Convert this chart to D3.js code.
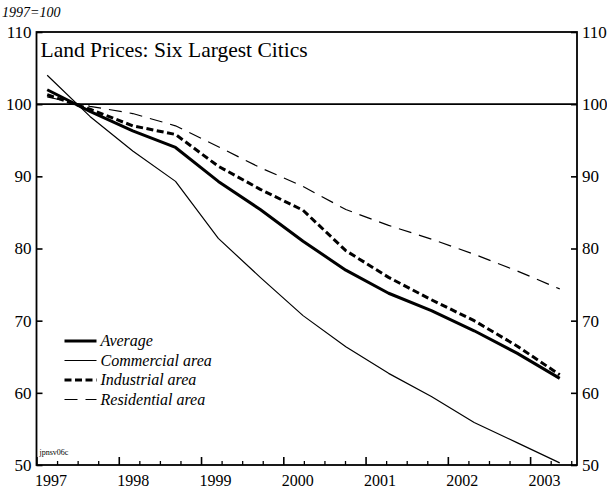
<!DOCTYPE html>
<html>
<head>
<meta charset="utf-8">
<script src="https://cdn.jsdelivr.net/npm/d3@7"></script>
<style>
body { margin: 0; background: #fff; }
text { font-family: "Liberation Serif", "Times New Roman", serif; fill: #000; }
</style>
</head>
<body>
<div id="chart"></div>
<script>
// semiannual observations (fractional year positions)
var dates = [1997.13, 1997.65, 1998.17, 1998.69, 1999.21, 1999.72, 2000.24,
             2000.76, 2001.28, 2001.80, 2002.32, 2002.84, 2003.36];
var average     = [102.0, 99.0, 96.3, 94.0, 89.3, 85.4, 81.0, 77.0, 73.8, 71.4, 68.6, 65.5, 62.0];
var commercial  = [104.0, 98.3, 93.5, 89.3, 81.4, 76.0, 70.7, 66.4, 62.7, 59.5, 55.9, 53.1, 50.3];
var industrial  = [101.3, 99.3, 97.0, 95.8, 91.4, 88.2, 85.3, 79.7, 76.0, 72.9, 70.0, 66.5, 62.5];
var residential = [101.0, 99.7, 98.7, 97.0, 94.1, 91.2, 88.6, 85.4, 83.2, 81.3, 79.2, 76.9, 74.4];

var yearTicks = [1997, 1998, 1999, 2000, 2001, 2002, 2003];
var yTicks = [50, 60, 70, 80, 90, 100, 110];

var series = [
  {name: "Average", values: average, width: 3, dash: null},
  {name: "Commercial area", values: commercial, width: 1.2, dash: null},
  {name: "Industrial area", values: industrial, width: 3, dash: "7,3.5"},
  {name: "Residential area", values: residential, width: 1.2, dash: "13,8"}
];

var margin = {top: 32, right: 30, bottom: 26, left: 36.5},
    width = 577 - margin.left,
    height = 465 - margin.top;

var x = d3.scaleLinear().domain([1997, 2003.57]).range([0, width]);
var y = d3.scaleLinear().domain([50, 110]).range([height, 0]);

var svg = d3.select("#chart").append("svg")
  .attr("width", 607)
  .attr("height", 491);

svg.append("text")
  .attr("x", 2).attr("y", 17)
  .style("font-size", "14px").style("font-style", "italic")
  .text("1997=100");

var g = svg.append("g")
  .attr("transform", "translate(" + margin.left + "," + margin.top + ")");

// quarter ticks
var quarters = d3.range(1997, 2003.55, 0.25).filter(function(d) { return d % 1 !== 0; });
g.append("g")
  .attr("transform", "translate(0," + height + ")")
  .call(d3.axisBottom(x).tickValues(quarters).tickSize(-4).tickFormat(""))
  .call(function(s) { s.select(".domain").remove(); })
  .selectAll("line").attr("stroke-width", 1.3);

var xAxis = g.append("g")
  .attr("transform", "translate(0," + height + ")")
  .call(d3.axisBottom(x).tickValues(yearTicks).tickSize(-8).tickPadding(10).tickFormat(d3.format("d")));
xAxis.select(".domain").remove();
xAxis.selectAll("line").attr("stroke-width", 1.6);
xAxis.selectAll("text")
  .attr("text-anchor", "start").attr("x", -2)
  .style("font-size", "16px");

var yLeft = g.append("g")
  .call(d3.axisLeft(y).tickValues(yTicks).tickSize(-6).tickPadding(5));
var yRight = g.append("g")
  .attr("transform", "translate(" + width + ",0)")
  .call(d3.axisRight(y).tickValues(yTicks).tickSize(-6).tickPadding(5));
[yLeft, yRight].forEach(function(a) {
  a.select(".domain").remove();
  a.selectAll("line").attr("stroke-width", 1.6);
  a.selectAll("text").style("font-size", "17px");
});

// frame
g.append("rect")
  .attr("width", width).attr("height", height)
  .attr("fill", "none").attr("stroke", "#000").attr("stroke-width", 1.8);

// reference line at 100
g.append("line")
  .attr("x1", 0).attr("x2", width)
  .attr("y1", y(100)).attr("y2", y(100))
  .attr("stroke", "#000").attr("stroke-width", 1.6);

g.append("text")
  .attr("x", 4).attr("y", 25)
  .style("font-size", "21.5px")
  .text("Land Prices: Six Largest Citics");

var line = d3.line()
  .x(function(d, i) { return x(dates[i]); })
  .y(function(d) { return y(d); });

g.selectAll(".series")
  .data(series)
  .enter().append("path")
  .attr("class", "series")
  .attr("d", function(d) { return line(d.values); })
  .attr("fill", "none")
  .attr("stroke", "#000")
  .attr("stroke-width", function(d) { return d.width; })
  .attr("stroke-dasharray", function(d) { return d.dash; })
  .attr("stroke-linejoin", "round");

// legend
var legend = g.selectAll(".legend")
  .data(series)
  .enter().append("g")
  .attr("class", "legend")
  .attr("transform", function(d, i) { return "translate(28," + (309 + i * 19.5) + ")"; });

legend.append("line")
  .attr("x1", 0).attr("x2", 32)
  .attr("stroke", "#000")
  .attr("stroke-width", function(d) { return d.width; })
  .attr("stroke-dasharray", function(d) { return d.dash; });

legend.append("text")
  .attr("x", 36).attr("y", 5)
  .style("font-size", "16px").style("font-style", "italic")
  .text(function(d) { return d.name; });

g.append("text")
  .attr("x", 3).attr("y", height - 10)
  .style("font-size", "8px")
  .text("jpnsv06c");
</script>
</body>
</html>
